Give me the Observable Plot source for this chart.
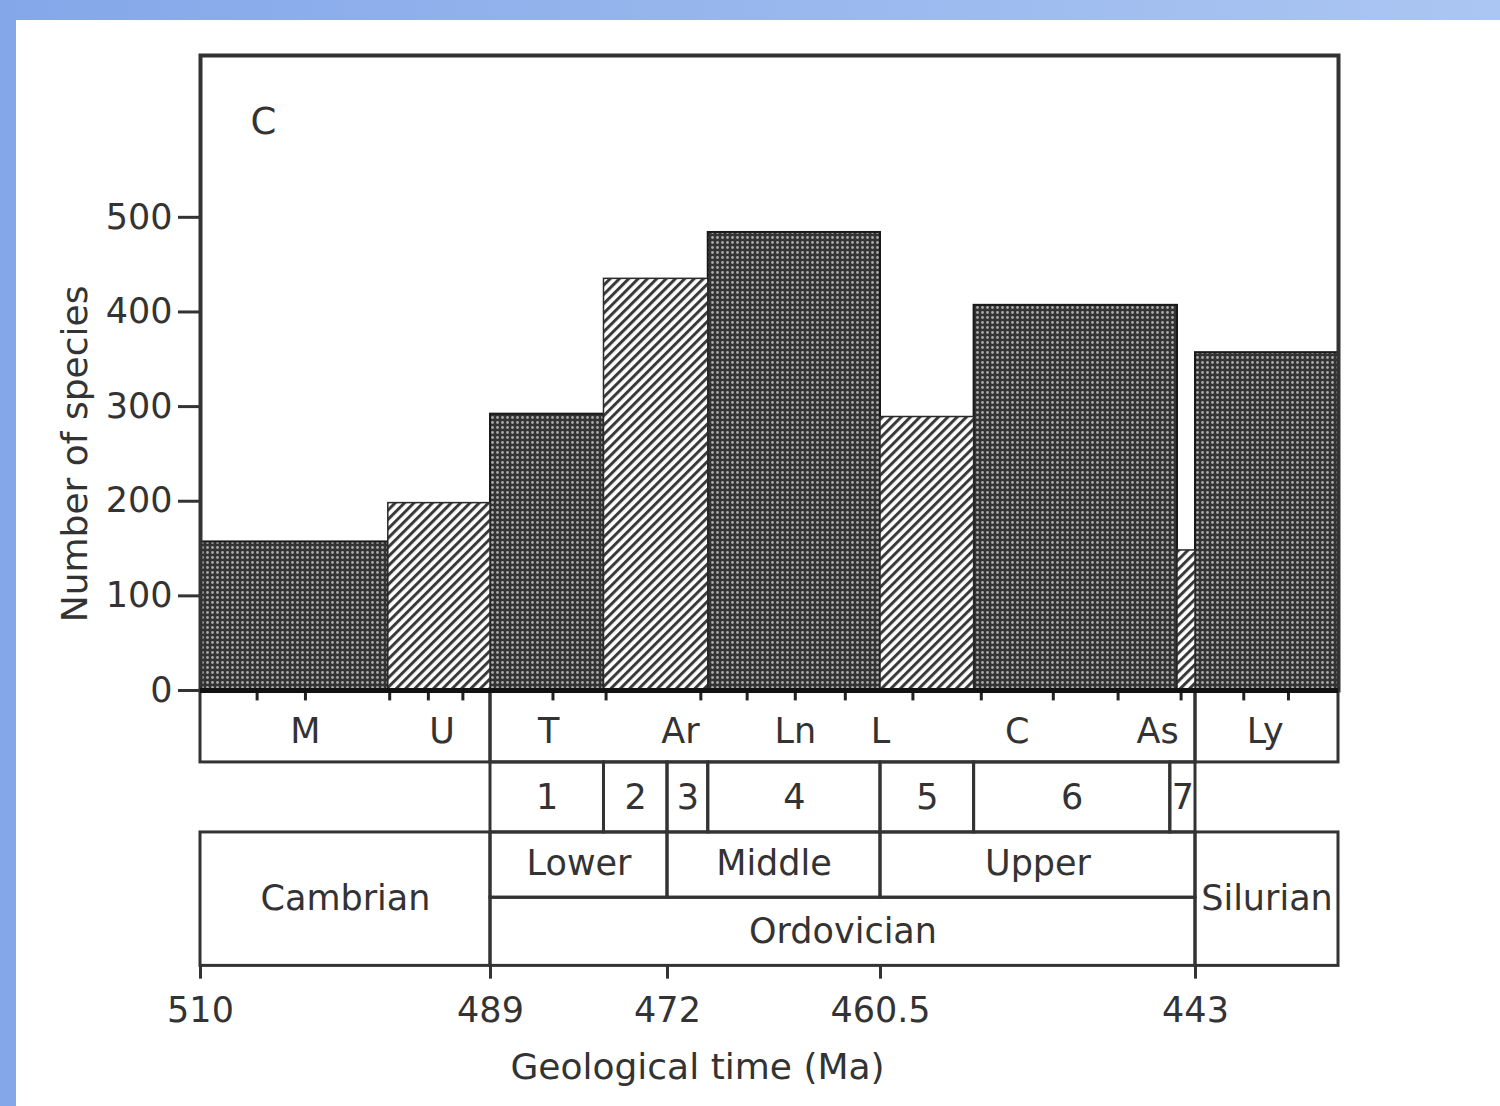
<!DOCTYPE html>
<html><head><meta charset="utf-8">
<script src="https://cdn.jsdelivr.net/npm/d3@7"></script>
<script src="https://cdn.jsdelivr.net/npm/@observablehq/plot@0.6"></script>
<style>
html,body{margin:0;padding:0;width:1500px;height:1106px;overflow:hidden;}
body{background:linear-gradient(to right,#84a7e9,#abc6f2);position:relative;}
#panel{position:absolute;left:16px;top:20px;right:0;bottom:0;background:#fff;}
#chart{position:absolute;left:0;top:0;}
</style></head>
<body><div id="panel"></div><div id="chart"></div>
<script>
// ---- data ----
const intervals     = ["M", "U", "T", "Ar", "Ln", "L", "C", "As", "Ly"];
const intervalStart = [510, 496.4, 489, 478.1, 469.8, 460.5, 455.3, 444.0, 443];
const intervalEnd   = [496.4, 489, 478.1, 469.8, 460.5, 455.3, 444.0, 443, 435];
const species       = [157, 198, 292, 435, 484, 289, 407, 148, 357];
const fillType      = ["dots", "hatch", "dots", "hatch", "dots", "hatch", "dots", "hatch", "dots"];
const stageLabelAt  = [502.4, 492.5, 483.4, 471.3, 465.1, 460.5, 452.9, 445.1, 439.1];
const sliceNames    = ["1", "2", "3", "4", "5", "6", "7"];
const sliceBounds   = [489, 478.1, 472, 469.8, 460.5, 455.3, 444.4, 443];
const epochNames    = ["Lower", "Middle", "Upper"];
const epochBounds   = [489, 472, 460.5, 443];
const periodNames   = ["Cambrian", "Ordovician", "Silurian"];
const periodBounds  = [510, 489, 443, 435];
const timeTicks     = [510, 489, 472, 460.5, 443];
const minorTicks    = [505.9, 502.4, 496.3, 493.5, 491.0, 483.0, 477.9, 470.2, 467.7, 465.1, 462.4, 458.7, 454.9, 450.9, 447.3, 443.8, 440.3, 437.8];
const speciesTicks  = [0, 100, 200, 300, 400, 500];
const xBreaks       = [510, 489, 472, 460.5, 443, 435];
const yLabel = "Number of species";
const xLabel = "Geological time (Ma)";
const panelLetter = "C";

// ---- tables built from the arrays ----
const bars = intervals.map((k, i) => ({k, x1: intervalStart[i], x2: intervalEnd[i], v: species[i], type: fillType[i], at: stageLabelAt[i]}));
const slices = sliceNames.map((k, i) => ({k, x1: sliceBounds[i], x2: sliceBounds[i + 1]}));
const epochs = epochNames.map((k, i) => ({k, x1: epochBounds[i], x2: epochBounds[i + 1]}));
const periods = periodNames.map((k, i) => ({k, x1: periodBounds[i], x2: periodBounds[i + 1]}));
const stageRow = [0, 1, 2].map(i => ({x1: periodBounds[i], x2: periodBounds[i + 1]}));

const xRange = [200, 490, 667, 880, 1195, 1338];
const xs = d3.scaleLinear().domain(xBreaks).range(xRange);
const mid = d => xs.invert((xs(d.x1) + xs(d.x2)) / 2);

// layout rows below the baseline (in species units)
const R1 = -76, R2 = -150, R3 = -219, R4 = -291;
const ink = "#333";
const boxStyle = {fill: "none", stroke: ink, strokeWidth: 3};

const svg = Plot.plot({
  width: 1500,
  height: 1106,
  marginLeft: 200,
  marginRight: 162,
  marginTop: 55,
  marginBottom: 416,
  style: {background: "transparent", fontFamily: "DejaVu Sans, sans-serif", fontSize: "35px", color: ink},
  x: {type: "linear", domain: xBreaks, range: xRange, axis: null},
  y: {domain: [0, 671], axis: null},
  marks: [
    Plot.rect(bars.filter(d => d.type === "dots"), {x1: "x1", x2: "x2", y1: 0, y2: "v", fill: "url(#dots)", stroke: "#1a1a1a", strokeWidth: 2}),
    Plot.rect(bars.filter(d => d.type === "hatch"), {x1: "x1", x2: "x2", y1: 0, y2: "v", fill: "url(#hatch)", stroke: "#2a2a2a", strokeWidth: 1.5}),
    Plot.frame({stroke: ink, strokeWidth: 4}),
    // stage row
    Plot.rect(stageRow, {x1: "x1", x2: "x2", y1: 0, y2: R1, ...boxStyle}),
    Plot.text(bars, {x: "at", y: (R1) * 0.58, text: "k", fontSize: 35, fill: ink}),
    // time slices
    Plot.rect(slices, {x1: "x1", x2: "x2", y1: R1, y2: R2, ...boxStyle}),
    Plot.text(slices, {x: mid, y: (R1 + R2) / 2, text: "k", fontSize: 35, fill: ink}),
    // epochs
    Plot.rect(epochs, {x1: "x1", x2: "x2", y1: R2, y2: R3, ...boxStyle}),
    Plot.text(epochs, {x: mid, y: (R2 + R3) / 2 + 1, text: "k", fontSize: 35, fill: ink}),
    // periods
    Plot.rect(periods.filter(d => d.k !== "Ordovician"), {x1: "x1", x2: "x2", y1: R2, y2: R4, ...boxStyle}),
    Plot.rect(periods.filter(d => d.k === "Ordovician"), {x1: "x1", x2: "x2", y1: R3, y2: R4, ...boxStyle}),
    Plot.text(periods.filter(d => d.k !== "Ordovician"), {x: mid, y: (R2 + R4) / 2, text: "k", fontSize: 35, fill: ink}),
    Plot.text(periods.filter(d => d.k === "Ordovician"), {x: mid, y: (R3 + R4) / 2, text: "k", fontSize: 35, fill: ink}),
    // baseline & minor ticks
    Plot.ruleX(minorTicks, {x: d => d, y1: 0, y2: -11, stroke: "#222", strokeWidth: 3}),
    Plot.ruleY([0], {stroke: "#111", strokeWidth: 5}),
    // y axis
    Plot.axisY(speciesTicks, {tickSize: 22, tickPadding: 6, fontSize: 35, strokeWidth: 3, stroke: ink, fill: ink, label: null}),
    Plot.text([yLabel], {frameAnchor: "left", y: 250, dx: -125, rotate: -90, text: d => d, fontSize: 36, fill: ink, textAnchor: "middle", lineAnchor: "middle"}),
    // x (time) axis
    Plot.ruleX(timeTicks, {x: d => d, y1: R4, y2: R4 - 14, stroke: ink, strokeWidth: 3}),
    Plot.text(timeTicks, {x: d => d, y: R4, dy: 45, text: d => String(d), fontSize: 35, fill: ink}),
    Plot.text([xLabel], {frameAnchor: "bottom", dx: -72, dy: 377, text: d => d, fontSize: 36, fill: ink, textAnchor: "middle", lineAnchor: "middle"}),
    // panel letter
    Plot.text([panelLetter], {frameAnchor: "top-left", dx: 63, dy: 67, text: d => d, fontSize: 37, fill: ink, textAnchor: "middle", lineAnchor: "middle"})
  ]
});

// fill patterns
const defs = d3.select(svg).insert("defs", ":first-child");
const p1 = defs.append("pattern").attr("id", "dots").attr("patternUnits", "userSpaceOnUse").attr("width", 5).attr("height", 5);
p1.append("rect").attr("width", 5).attr("height", 5).attr("fill", "#333");
p1.append("circle").attr("cx", 2.5).attr("cy", 2.5).attr("r", 1.4).attr("fill", "#a8a8a8");
const p2 = defs.append("pattern").attr("id", "hatch").attr("patternUnits", "userSpaceOnUse").attr("width", 6.6).attr("height", 10).attr("patternTransform", "rotate(45)");
p2.append("rect").attr("width", 6.6).attr("height", 10).attr("fill", "#fff");
p2.append("rect").attr("width", 3.0).attr("height", 10).attr("fill", "#3a3a3a");

document.getElementById("chart").appendChild(svg);
</script>
</body></html>
